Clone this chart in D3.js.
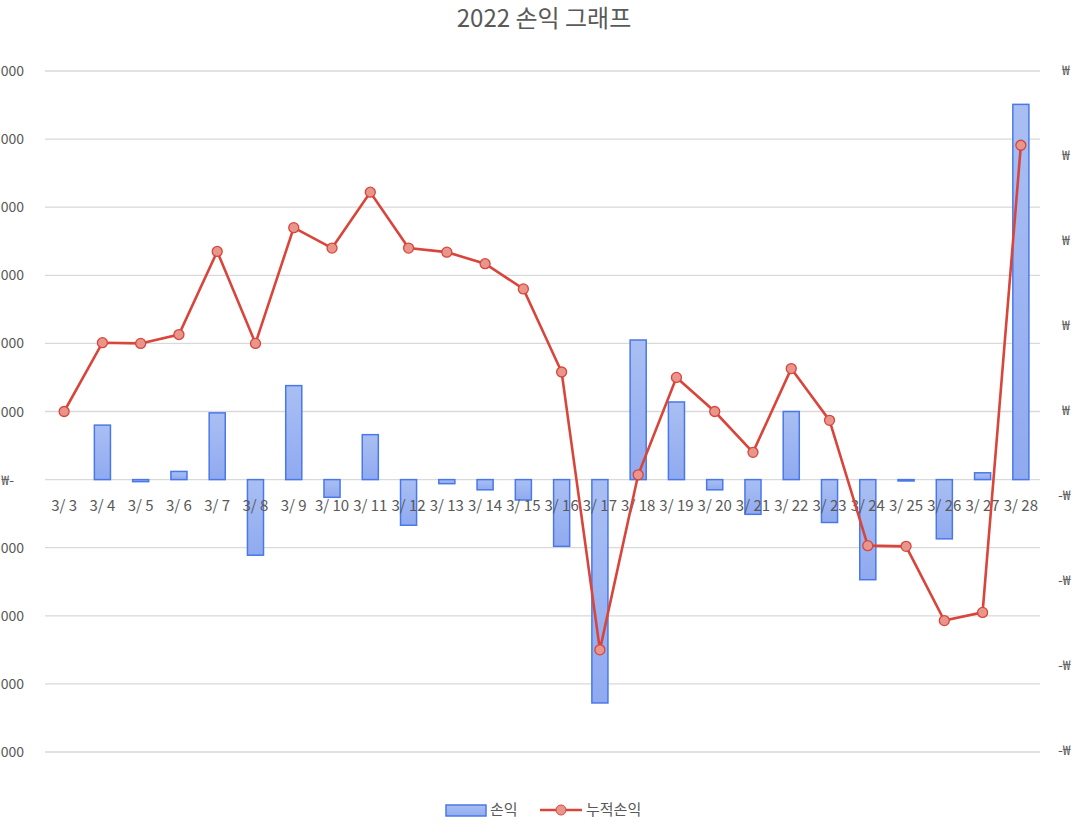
<!DOCTYPE html>
<html><head><meta charset="utf-8">
<script src="https://cdn.jsdelivr.net/npm/d3@7"></script>
<style>body{margin:0;background:#fff;font-family:"Noto Sans CJK KR","Noto Sans",sans-serif}</style>
</head><body><svg id="c" width="1079" height="830"></svg>
<script>
// values in millions of won
var days = ['3/3','3/4','3/5','3/6','3/7','3/8','3/9','3/10','3/11','3/12','3/13','3/14','3/15','3/16','3/17','3/18','3/19','3/20','3/21','3/22','3/23','3/24','3/25','3/26','3/27','3/28'];
var pnl = [0,0.8,-0.03,0.12,0.98,-1.11,1.38,-0.26,0.66,-0.67,-0.06,-0.15,-0.3,-0.98,-3.28,2.05,1.14,-0.15,-0.51,1.0,-0.63,-1.47,-0.02,-0.87,0.1,5.51];
var cumPnl = [1.0,2.01,2.0,2.13,3.35,2.0,3.7,3.4,4.22,3.4,3.34,3.17,2.8,1.58,-2.5,0.07,1.5,1.0,0.4,1.63,0.87,-0.97,-0.98,-2.07,-1.95,4.91];
var leftTicks = [-4,-3,-2,-1,0,1,2,3,4,5,6];
var rightTicks = [-3.5,-2.5,-1.5,-0.5,0.5,1.5,2.5,3.5,4.5];

var svg = d3.select('#c');
var grey = '#595959';
var x = d3.scaleBand().domain(days).range([45, 1040]).paddingInner(0.58).paddingOuter(0.29);
var y = d3.scaleLinear().domain([-4, 6]).range([752, 71]);
var y2 = d3.scaleLinear().domain([-3.5, 4.5]).range([750, 70]);
// the reference only shows the tail / head of the currency labels
var leftLabel = function(v) { return v === 0 ? '₩-' : '000'; };
var rightLabel = function(v) { return v < 0 ? '-₩' : '₩'; };

svg.append('text').attr('x', 544).attr('y', 27).attr('text-anchor', 'middle')
  .attr('font-size', 24).attr('fill', grey).text('2022 손익 그래프');

// grid
svg.append('g').selectAll('line').data(leftTicks).join('line')
  .attr('x1', 45).attr('x2', 1040).attr('y1', d => y(d)).attr('y2', d => y(d))
  .attr('stroke', '#d9d9d9').attr('stroke-width', 1.3);

svg.append('g').selectAll('text').data(leftTicks).join('text')
  .attr('x', d => d === 0 ? 14 : 24).attr('y', d => y(d) + 5).attr('text-anchor', 'end')
  .attr('font-size', 14).attr('fill', grey).text(leftLabel);

svg.append('g').selectAll('text').data(rightTicks).join('text')
  .attr('x', d => d < 0 ? 1058 : 1062).attr('y', d => y2(d) + 5)
  .attr('font-size', 14).attr('fill', grey).text(rightLabel);

var grad = svg.append('defs').append('linearGradient').attr('id', 'bg').attr('x1', 0).attr('x2', 0).attr('y1', 0).attr('y2', 1);
grad.append('stop').attr('offset', 0).attr('stop-color', '#a9bff3');
grad.append('stop').attr('offset', 1).attr('stop-color', '#90aaf0');

svg.append('g').selectAll('rect').data(pnl).join('rect')
  .attr('x', (d, i) => x(days[i])).attr('width', x.bandwidth())
  .attr('y', d => y(Math.max(0, d))).attr('height', d => Math.abs(y(d) - y(0)))
  .attr('fill', 'url(#bg)').attr('stroke', '#4a78e8').attr('stroke-width', 1.5);

svg.append('g').selectAll('text').data(days).join('text')
  .attr('x', d => x(d) + x.bandwidth() / 2).attr('y', 511).attr('text-anchor', 'middle')
  .attr('font-size', 15).attr('fill', grey).text(d => d.replace('/', '/ '));

var line = d3.line().x((d, i) => x(days[i]) + x.bandwidth() / 2).y(d => y(d));
svg.append('path').datum(cumPnl).attr('d', line).attr('fill', 'none')
  .attr('stroke', '#d9453a').attr('stroke-width', 2.6);
svg.append('g').selectAll('circle').data(cumPnl).join('circle')
  .attr('cx', (d, i) => x(days[i]) + x.bandwidth() / 2).attr('cy', d => y(d)).attr('r', 5)
  .attr('fill', '#e8958c').attr('stroke', '#d9453a').attr('stroke-width', 1.3);

// legend
var lg = svg.append('g').attr('font-size', 15).attr('fill', grey);
lg.append('rect').attr('x', 446).attr('y', 805).attr('width', 40).attr('height', 11)
  .attr('fill', 'url(#bg)').attr('stroke', '#4a78e8').attr('stroke-width', 1.5);
lg.append('text').attr('x', 490).attr('y', 815).text('손익');
lg.append('line').attr('x1', 540).attr('x2', 582).attr('y1', 810).attr('y2', 810)
  .attr('stroke', '#d9453a').attr('stroke-width', 2.6);
lg.append('circle').attr('cx', 561).attr('cy', 810).attr('r', 5)
  .attr('fill', '#e8958c').attr('stroke', '#d9453a');
lg.append('text').attr('x', 586).attr('y', 815).text('누적손익');
</script></body></html>
